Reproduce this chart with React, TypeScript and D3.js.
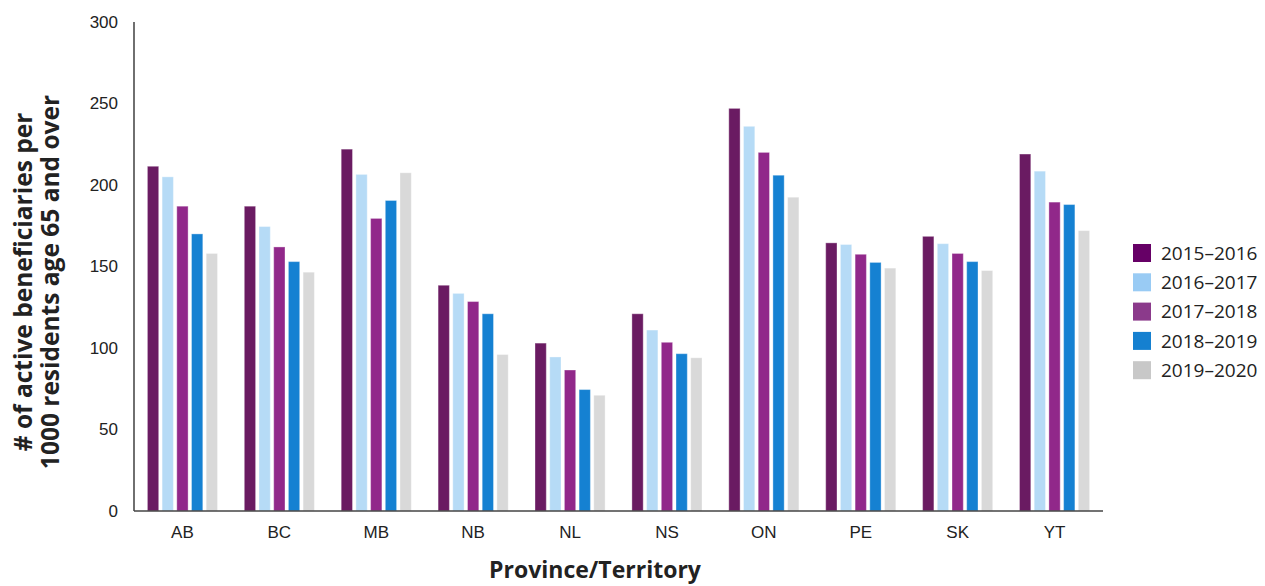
import React from "react";
import * as d3 from "d3";

const provinces = ["AB", "BC", "MB", "NB", "NL", "NS", "ON", "PE", "SK", "YT"];
const years = ["2015–2016", "2016–2017", "2017–2018", "2018–2019", "2019–2020"];
const v2015 = [211.5, 187, 222, 138.5, 103, 121, 247, 164.5, 168.5, 219];
const v2016 = [205, 174.5, 206.5, 133.5, 94.5, 111, 236, 163.5, 164, 208.5];
const v2017 = [187, 162, 179.5, 128.5, 86.5, 103.5, 220, 157.5, 158, 189.5];
const v2018 = [170, 153, 190.5, 121, 74.5, 96.5, 206, 152.5, 153, 188];
const v2019 = [158, 146.5, 207.5, 96, 71, 94, 192.5, 149, 147.5, 172];
const yTicks = [0, 50, 100, 150, 200, 250, 300];

const barColors = ["#6a1b62", "#b6dbf6", "#91288a", "#1581d2", "#d9d9d9"];
const legendColors = ["#660066", "#99cbf4", "#8b3a8b", "#1580d0", "#c8c8c8"];

export default function App() {
  const W = 1265, H = 586;
  const left = 134, right = 1103, top = 22, bottom = 511;
  const series = [v2015, v2016, v2017, v2018, v2019];
  const x = d3.scaleBand<string>().domain(provinces).range([left, right]).padding(0);
  const y = d3.scaleLinear().domain([0, 300]).range([bottom, top]);
  const step = 14.7;
  const bw = 11.3;
  const textFont = "'Liberation Sans', Arial, sans-serif";
  const titleFont = "'Open Sans', 'Noto Sans', sans-serif";

  return (
    <svg width={W} height={H} style={{ position: "absolute", left: 0, top: 0, background: "#fff" }}>
      {provinces.map((p, pi) => {
        const cx = (x(p) as number) + x.bandwidth() / 2;
        return series.map((s, si) => {
          const bx = cx + (si - 2) * step - bw / 2;
          return (
            <rect
              key={p + si}
              x={bx}
              y={y(s[pi])}
              width={bw}
              height={bottom - y(s[pi])}
              fill={barColors[si]}
              stroke="#ffffff"
              strokeOpacity={0.35}
              strokeWidth={1}
            />
          );
        });
      })}
      <line x1={left} x2={left} y1={top} y2={bottom} stroke="#222" strokeWidth={1.3} />
      <line x1={left} x2={right} y1={bottom} y2={bottom} stroke="#444" strokeWidth={1.5} />
      {yTicks.map((t) => (
        <text key={t} x={118} y={y(t)} dy="0.35em" textAnchor="end" fontFamily={textFont} fontSize={17} fill="#222">
          {t}
        </text>
      ))}
      {provinces.map((p) => (
        <text
          key={p}
          x={(x(p) as number) + x.bandwidth() / 2}
          y={538}
          textAnchor="middle"
          fontFamily={textFont}
          fontSize={17}
          fill="#222"
        >
          {p}
        </text>
      ))}
      <text x={595} y={578} textAnchor="middle" fontFamily={titleFont} fontWeight={700} fontSize={23} fill="#222">
        Province/Territory
      </text>
      <g transform="translate(0,282) rotate(-90)">
        <text x={0} y={32} textAnchor="middle" fontFamily={titleFont} fontWeight={700} fontSize={24.5} fill="#222">
          # of active beneficiaries per
        </text>
        <text x={0} y={59} textAnchor="middle" fontFamily={titleFont} fontWeight={700} fontSize={24.5} fill="#222">
          1000 residents age 65 and over
        </text>
      </g>
      {years.map((yr, i) => (
        <g key={yr} transform={`translate(1133,${244 + i * 29.3})`}>
          <rect x={0} y={0} width={18} height={18} fill={legendColors[i]} />
          <text x={28} y={9} dy="0.35em" fontFamily={titleFont} fontSize={19} fill="#222">
            {yr}
          </text>
        </g>
      ))}
    </svg>
  );
}
